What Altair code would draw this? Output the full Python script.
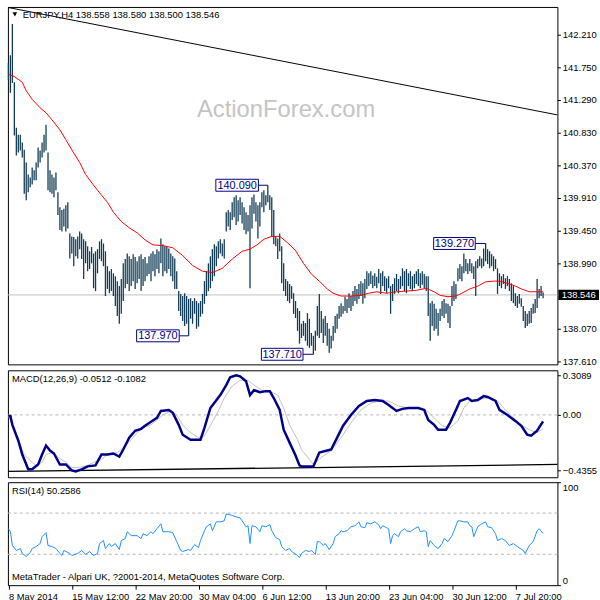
import altair as alt
import pandas as pd

# ---------------- data ----------------
high = [141.81,141.92,142.36,141.54,140.90,140.80,140.80,140.69,140.59,140.41,
        140.24,140.20,140.34,140.30,140.41,140.62,140.58,140.69,140.80,140.94,
        140.55,140.30,140.24,140.20,140.27,139.99,139.78,139.74,139.76,139.81,
        139.85,139.41,139.37,139.36,139.33,139.37,139.44,139.41,139.33,139.30,
        139.23,139.16,139.22,139.13,139.16,139.19,139.30,139.33,139.27,139.16,
        138.95,138.88,138.91,138.85,138.81,138.74,138.67,138.77,138.99,139.05,
        139.13,139.09,139.05,139.12,139.08,139.02,139.09,139.12,139.05,139.08,
        138.99,139.09,139.13,139.16,139.12,139.19,139.16,139.34,139.26,139.23,
        139.23,139.20,139.13,139.09,139.06,138.88,138.60,138.56,138.53,138.57,
        138.53,138.49,138.50,138.46,138.50,138.46,138.43,138.46,138.56,138.74,
        138.88,138.99,139.09,139.19,139.26,139.23,139.30,139.33,139.27,139.33,
        139.71,139.74,139.71,139.85,139.92,139.95,139.88,139.92,139.85,139.78,
        139.71,139.67,139.81,139.92,139.96,139.85,139.81,139.85,139.99,140.02,
        139.95,140.09,139.95,139.92,139.74,139.37,139.34,139.41,139.23,138.99,
        138.77,138.74,138.70,138.67,138.57,138.46,138.36,138.32,138.14,138.18,
        138.15,138.29,138.21,138.01,137.97,138.04,138.39,138.56,138.32,138.21,
        138.25,138.15,138.07,137.97,138.11,138.25,138.28,138.39,138.43,138.39,
        138.52,138.49,138.57,138.53,138.60,138.67,138.63,138.70,138.74,138.71,
        138.77,138.88,138.85,138.88,138.82,138.85,138.80,138.91,138.85,138.88,
        138.81,138.78,138.81,138.67,138.70,138.78,138.84,138.77,138.81,138.92,
        138.88,138.91,138.85,138.88,138.81,138.84,138.88,138.91,138.85,138.88,
        138.84,138.81,138.81,138.43,138.46,138.42,138.35,138.29,138.35,138.46,
        138.49,138.43,138.42,138.39,138.67,138.74,138.70,138.92,138.98,138.95,
        139.13,139.05,138.99,139.05,138.99,138.95,139.02,139.05,139.09,139.06,
        139.20,139.27,139.19,139.16,139.12,139.09,139.05,138.92,138.85,138.81,
        138.84,138.78,138.81,138.77,138.71,138.67,138.57,138.53,138.56,138.50,
        138.39,138.32,138.28,138.32,138.36,138.42,138.49,138.77,138.63,138.67,
        138.58]
low = [141.57,141.39,141.53,140.79,140.51,140.55,140.58,140.48,139.97,139.88,
       139.99,140.06,140.10,140.16,140.16,140.34,140.41,140.48,140.55,140.58,
       140.02,139.99,139.97,139.92,140.02,139.67,139.46,139.44,139.51,139.44,
       139.48,139.06,139.13,138.95,139.09,139.06,139.19,139.05,138.77,138.99,
       138.88,138.91,138.99,138.64,138.60,138.85,139.05,139.02,138.95,138.53,
       138.63,138.57,138.60,138.53,138.39,138.25,138.14,138.28,138.46,138.64,
       138.70,138.60,138.67,138.74,138.63,138.71,138.77,138.60,138.67,138.74,
       138.81,138.84,138.74,138.88,138.81,138.91,138.85,138.99,138.81,138.88,
       138.85,138.91,138.81,138.74,138.63,138.63,138.32,138.25,138.18,138.11,
       138.14,137.97,138.21,138.14,138.28,138.07,138.10,138.24,138.28,138.42,
       138.53,138.60,138.64,138.74,138.81,138.95,139.06,139.13,139.09,139.06,
       139.44,139.51,139.46,139.60,139.64,139.53,139.58,139.67,139.55,139.46,
       139.40,139.44,138.64,139.48,139.69,139.58,139.34,139.51,139.78,139.71,
       139.81,139.85,139.74,139.37,139.26,139.23,139.05,139.16,138.71,138.60,
       138.53,138.46,138.43,138.49,138.28,138.22,138.04,137.86,137.94,137.97,
       137.90,137.83,137.80,137.83,137.71,137.76,137.97,137.94,138.01,137.87,
       137.97,137.83,137.73,137.79,137.90,138.01,138.07,138.21,138.24,138.28,
       138.32,138.29,138.36,138.32,138.39,138.46,138.42,138.49,138.53,138.42,
       138.50,138.63,138.67,138.70,138.64,138.67,138.64,138.71,138.56,138.67,
       138.60,138.57,138.64,138.28,138.46,138.56,138.60,138.57,138.63,138.67,
       138.60,138.57,138.67,138.63,138.60,138.64,138.70,138.67,138.64,138.69,
       138.64,138.60,138.25,137.90,138.11,138.04,138.07,137.97,138.18,138.25,
       138.22,138.28,138.15,138.08,138.39,138.46,138.49,138.74,138.77,138.74,
       138.85,138.88,138.84,138.88,138.85,138.77,138.53,138.92,138.95,138.92,
       138.95,139.02,138.98,138.92,138.95,138.88,138.91,138.56,138.67,138.64,
       138.70,138.63,138.67,138.60,138.46,138.43,138.39,138.36,138.42,138.38,
       138.18,138.08,138.11,138.14,138.15,138.28,138.29,138.36,138.50,138.53,
       138.50]

ma_idx = [0,3,7,9,12,16,19,22,26,29,32,36,39,43,47,50,53,57,61,65,69,73,78,83,88,
          93,98,103,108,113,118,122,126,129,133,137,141,145,149,153,157,161,164,168,
          173,178,182,186,191,196,201,206,211,215,218,222,226,229,233,237,241,245,
          248,252,256,259,263,267,270]
ma_val = [141.65,141.62,141.54,141.42,141.30,141.18,141.11,141.01,140.87,140.73,140.59,
          140.41,140.24,140.09,139.95,139.85,139.71,139.58,139.49,139.42,139.32,139.25,
          139.24,139.21,139.10,138.96,138.88,138.86,138.92,139.05,139.16,139.19,139.26,
          139.33,139.37,139.37,139.28,139.17,138.99,138.84,138.74,138.63,138.57,138.53,
          138.53,138.54,138.57,138.59,138.57,138.59,138.60,138.61,138.64,138.59,138.54,
          138.52,138.53,138.57,138.63,138.67,138.73,138.74,138.74,138.71,138.67,138.63,
          138.59,138.59,138.59]

macd_idx = [0,1,2,5,7,10,12,15,17,19,21,23,26,29,32,34,37,40,44,47,50,53,56,58,61,64,
            67,69,72,75,77,81,83,86,88,92,97,99,102,107,110,112,115,117,120,122,124,127,
            130,132,134,137,139,142,145,147,148,154,157,161,163,166,169,173,177,181,185,
            189,192,196,199,202,207,210,212,215,217,221,223,226,228,232,234,237,240,242,
            246,248,252,256,259,262,264,267,270]
macd_val = [-0.008,-0.008,-0.078,-0.202,-0.31,-0.426,-0.426,-0.388,-0.31,-0.24,-0.279,
            -0.302,-0.388,-0.388,-0.434,-0.442,-0.426,-0.403,-0.395,-0.31,-0.31,-0.302,
            -0.326,-0.271,-0.178,-0.124,-0.109,-0.085,-0.054,-0.023,0.031,0.039,0.016,
            -0.078,-0.155,-0.194,-0.194,-0.101,0.054,0.155,0.233,0.295,0.31,0.302,0.264,
            0.155,0.194,0.178,0.186,0.186,0.132,0.039,-0.116,-0.217,-0.318,-0.395,-0.403,
            -0.403,-0.295,-0.279,-0.271,-0.178,-0.085,0.0,0.07,0.109,0.116,0.109,0.078,
            0.031,0.047,0.054,0.054,0.039,-0.039,-0.078,-0.116,-0.116,-0.062,0.039,0.109,
            0.132,0.109,0.116,0.147,0.14,0.109,0.039,0.0,-0.047,-0.085,-0.155,-0.163,
            -0.124,-0.0512]

sig_idx = [0,2,5,8,12,14,17,19,22,26,29,32,36,40,43,47,50,55,58,62,65,68,72,75,78,82,
           85,88,92,96,99,102,106,109,113,117,121,124,128,132,136,139,142,146,148,152,
           154,158,163,168,173,178,183,188,192,197,202,207,211,215,219,223,227,230,233,
           238,242,247,251,255,259,263,267,270]
sig_val = [-0.008,-0.078,-0.194,-0.31,-0.372,-0.395,-0.372,-0.31,-0.295,-0.341,-0.372,
           -0.411,-0.411,-0.395,-0.372,-0.349,-0.31,-0.295,-0.256,-0.194,-0.14,-0.101,
           -0.078,-0.039,0.0,0.031,0.0,-0.078,-0.14,-0.178,-0.163,-0.085,0.031,0.132,
           0.225,0.271,0.271,0.233,0.194,0.186,0.155,0.054,-0.078,-0.194,-0.271,-0.349,
           -0.388,-0.333,-0.279,-0.178,-0.062,0.039,0.093,0.109,0.109,0.07,0.054,0.054,
           0.039,-0.023,-0.085,-0.101,-0.047,0.054,0.109,0.124,0.132,0.109,0.039,-0.023,
           -0.078,-0.116,-0.14,-0.1082]

rsi_idx = [0,1,2,4,6,7,9,11,12,14,16,17,19,20,22,24,26,27,28,31,32,35,37,39,41,43,45,46,
           48,49,51,52,54,56,57,59,60,62,65,67,68,70,72,73,75,77,78,81,83,85,87,88,91,92,
           94,96,97,99,100,102,103,105,107,109,110,112,115,117,118,120,121,122,123,125,
           127,128,130,132,133,135,137,138,140,142,143,146,147,148,150,152,153,155,156,
           157,159,160,162,164,165,167,168,169,171,173,175,177,178,180,181,183,185,187,
           188,189,191,192,193,194,195,197,198,200,201,203,205,207,208,210,211,212,213,
           215,217,219,220,222,224,225,227,228,230,232,233,234,235,237,239,241,242,244,
           246,247,249,251,253,255,257,260,261,263,265,267,268,270]
rsi_val = [54.8,51.9,38.5,33.7,35.6,30.8,27.9,31.7,35.6,37.5,40.4,47.1,51.0,38.5,37.5,
           35.6,30.8,28.8,33.7,30.8,28.8,30.8,33.7,29.8,32.7,28.8,30.8,40.4,43.3,35.6,
           40.4,37.5,40.4,34.6,43.3,45.2,51.9,48.1,48.1,45.2,50.0,48.1,51.9,50.0,54.8,
           59.6,51.9,51.9,51.0,42.3,33.7,32.7,34.6,33.7,39.4,36.5,43.3,52.9,56.7,59.6,
           52.9,61.5,61.5,62.5,69.2,68.3,66.3,65.4,62.5,56.7,57.7,40.4,57.7,56.7,51.9,
           57.7,56.7,58.7,52.9,46.2,44.2,37.5,33.7,35.6,32.7,28.8,26.9,30.8,33.7,32.7,
           33.7,29.8,42.3,42.3,38.5,40.4,34.6,40.4,47.1,50.0,52.9,51.9,52.9,56.7,57.7,
           61.5,56.7,55.8,60.6,59.6,61.5,58.7,54.8,57.7,55.8,54.8,40.4,48.1,50.0,47.1,
           51.9,54.8,52.9,51.9,54.8,56.7,51.9,52.9,51.9,37.5,43.3,38.5,35.6,40.4,45.2,
           42.3,48.1,52.9,62.5,62.5,61.5,61.5,57.7,56.7,47.1,56.7,59.6,61.5,56.7,55.8,
           50.0,43.3,45.2,43.3,38.5,40.4,37.5,33.7,30.8,38.5,42.3,52.9,54.8,50.2586]

tick_idx = [0, 32, 64, 96, 128, 160, 192, 224, 256]
tick_labels = ["8 May 2014", "15 May 12:00", "22 May 20:00", "30 May 04:00",
               "6 Jun 12:00", "13 Jun 20:00", "23 Jun 04:00", "30 Jun 12:00", "7 Jul 20:00"]
price_ticks = [137.61, 138.07, 138.99, 139.45, 139.91, 140.37, 140.83, 141.29, 141.75, 142.21]
macd_ticks = [-0.4355, 0.0, 0.3089]
rsi_ticks = [0, 30, 70, 100]

label_text = ["140.090", "137.970", "137.710", "139.270"]
label_price = [140.09, 137.97, 137.71, 139.27]
label_left = [104.75, 64.75, 127.75, 214.75]
label_right = [126.25, 86.25, 148.75, 235.75]
label_bar = [131, 91, 154, 241]

trend_idx = [-0.25, 277.25]
trend_price = [142.593, 141.08]
macd_trend_val = [-0.442, -0.388]
last_price = 138.546

title_main = "EURJPY,H4  138.558 138.580 138.500 138.546"
title_macd = "MACD(12,26,9) -0.0512 -0.1082"
title_rsi = "RSI(14) 50.2586"
footer = "MetaTrader - Alpari UK, ?2001-2014, MetaQuotes Software Corp."
watermark = "ActionForex.com"

# ---------------- styling ----------------
FONT = "Liberation Sans"
BAR = "#123c56"
W = 555
XS = alt.Scale(domain=[-0.25, 277.25], nice=False, zero=False)

bars_df = pd.DataFrame({"i": list(range(len(high))), "h": high, "l": low})
ma_df = pd.DataFrame({"i": ma_idx, "v": ma_val})
macd_df = pd.DataFrame({"i": macd_idx, "v": macd_val})
sig_df = pd.DataFrame({"i": sig_idx, "v": sig_val})
rsi_df = pd.DataFrame({"i": rsi_idx, "v": rsi_val})
trend_df = pd.DataFrame({"i": trend_idx, "v": trend_price})
mtrend_df = pd.DataFrame({"i": trend_idx, "v": macd_trend_val})
lab_df = pd.DataFrame({"t": label_text, "p": label_price, "xl": label_left,
                       "xr": label_right, "xb": label_bar})
lab_df["lo"] = lab_df["p"] - 0.084
lab_df["hi"] = lab_df["p"] + 0.084
lab_df["xc"] = (lab_df["xl"] + lab_df["xr"]) / 2
last_df = pd.DataFrame({"p": [last_price], "lo": [last_price - 0.072],
                        "hi": [last_price + 0.072], "t": [f"{last_price:.3f}"]})

YS = alt.Scale(domain=[137.568, 142.60], nice=False, zero=False)
yaxis_main = alt.Axis(orient="right", values=price_ticks, format=".3f", title=None,
                      grid=False, domain=False, tickSize=3, labelPadding=2,
                      labelFlush=False, labelOverlap=False)

x_noaxis = alt.X("i:Q", scale=XS, axis=None)

last_line = alt.Chart(last_df).mark_rule(color="#c0c0c0", strokeWidth=1).encode(
    x=alt.value(0), x2=alt.value(W), y=alt.Y("p:Q", scale=YS, axis=yaxis_main))
bar_layer = alt.Chart(bars_df).mark_rule(color=BAR, strokeWidth=1.3).encode(
    x=x_noaxis, y=alt.Y("l:Q", scale=YS), y2="h:Q")
ma_layer = alt.Chart(ma_df).mark_line(color="#ff0000", strokeWidth=1).encode(
    x=x_noaxis, y=alt.Y("v:Q", scale=YS))
trend_layer = alt.Chart(trend_df).mark_line(color="black", strokeWidth=1, clip=True).encode(
    x=x_noaxis, y=alt.Y("v:Q", scale=YS))
conn_layer = alt.Chart(lab_df).mark_rule(color="#000080", strokeWidth=1).encode(
    x=alt.X("xr:Q", scale=XS, axis=None), x2="xb:Q", y=alt.Y("p:Q", scale=YS))
box_layer = alt.Chart(lab_df).mark_rect(fill="white", stroke="#000080", strokeWidth=1).encode(
    x=alt.X("xl:Q", scale=XS, axis=None), x2="xr:Q", y=alt.Y("lo:Q", scale=YS), y2="hi:Q")
boxtxt_layer = alt.Chart(lab_df).mark_text(font=FONT, fontSize=11, color="#000080",
                                           baseline="middle", align="center", dy=0.5).encode(
    x=alt.X("xc:Q", scale=XS, axis=None), y=alt.Y("p:Q", scale=YS), text="t:N")
wm_layer = alt.Chart(pd.DataFrame({"t": [watermark]})).mark_text(
    font=FONT, fontSize=24, color="#c4c4c4", align="left", baseline="alphabetic").encode(
    x=alt.value(191), y=alt.value(111), text="t:N")
title_layer = alt.Chart(pd.DataFrame({"t": [title_main]})).mark_text(
    font=FONT, fontSize=9.5, color="black", align="left", baseline="alphabetic").encode(
    x=alt.value(15), y=alt.value(11), text="t:N")
tri_layer = alt.Chart(pd.DataFrame({"t": [0]})).mark_point(
    shape="triangle-down", filled=True, color="black", size=22, opacity=1).encode(
    x=alt.value(7), y=alt.value(7.5))
lastbox_layer = alt.Chart(last_df).mark_rect(fill="black").encode(
    x=alt.value(556), x2=alt.value(597), y=alt.Y("lo:Q", scale=YS), y2="hi:Q")
lasttxt_layer = alt.Chart(last_df).mark_text(font=FONT, fontSize=9.5, color="white",
                                            align="center", baseline="middle", dy=0.5).encode(
    x=alt.value(576.5), y=alt.Y("p:Q", scale=YS), text="t:N")

main = alt.layer(last_line, wm_layer, trend_layer, bar_layer, ma_layer, conn_layer,
                 box_layer, boxtxt_layer, title_layer, tri_layer,
                 lastbox_layer, lasttxt_layer).properties(width=W, height=361)

# MACD panel
MS = alt.Scale(domain=[-0.488, 0.349], nice=False, zero=False)
yaxis_macd = alt.Axis(orient="right", values=macd_ticks, title=None, grid=False,
                      domain=False, tickSize=3, labelPadding=2, labelFlush=False,
                      labelOverlap=False,
                      labelExpr="datum.value == 0 ? '0.00' : format(datum.value, '.4f')")
zero_df = pd.DataFrame({"v": [0.0]})
zero_layer = alt.Chart(zero_df).mark_rule(color="#b4b4b4", strokeDash=[3, 3]).encode(
    x=alt.value(0), x2=alt.value(W), y=alt.Y("v:Q", scale=MS, axis=yaxis_macd))
mtrend_layer = alt.Chart(mtrend_df).mark_line(color="black", strokeWidth=1.3).encode(
    x=x_noaxis, y=alt.Y("v:Q", scale=MS))
sig_layer = alt.Chart(sig_df).mark_line(color="#c0c0c0", strokeWidth=1).encode(
    x=x_noaxis, y=alt.Y("v:Q", scale=MS))
macd_layer = alt.Chart(macd_df).mark_line(color="#00008b", strokeWidth=2.5).encode(
    x=x_noaxis, y=alt.Y("v:Q", scale=MS))
mtitle = alt.Chart(pd.DataFrame({"t": [title_macd]})).mark_text(
    font=FONT, fontSize=9.5, color="black", align="left", baseline="alphabetic").encode(
    x=alt.value(4), y=alt.value(12), text="t:N")
macd_panel = alt.layer(zero_layer, mtrend_layer, sig_layer, macd_layer, mtitle).properties(
    width=W, height=108)

# RSI panel
RS = alt.Scale(domain=[0, 100], nice=False, zero=False)
yaxis_rsi = alt.Axis(orient="right", values=rsi_ticks, format="d", title=None, grid=False,
                     domain=False, tickSize=3, labelPadding=2, labelFlush=True,
                     labelOverlap=False)
label_js = "[" + ",".join("'" + s + "'" for s in tick_labels) + "]"
xaxis_rsi = alt.Axis(values=tick_idx, title=None, grid=False, domain=False, tickSize=4,
                     labelAlign="left", labelPadding=2, labelFlush=False, labelOverlap=False,
                     labelExpr=label_js + "[round(datum.value / 32)]")
lvl_df = pd.DataFrame({"v": [30, 70]})
lvl_layer = alt.Chart(lvl_df).mark_rule(color="#b4b4b4", strokeDash=[3, 3]).encode(
    x=alt.value(0), x2=alt.value(W), y=alt.Y("v:Q", scale=RS, axis=yaxis_rsi))
rsi_layer = alt.Chart(rsi_df).mark_line(color="#1e90ff", strokeWidth=1).encode(
    x=alt.X("i:Q", scale=XS, axis=xaxis_rsi), y=alt.Y("v:Q", scale=RS))
rtitle = alt.Chart(pd.DataFrame({"t": [title_rsi]})).mark_text(
    font=FONT, fontSize=9.5, color="black", align="left", baseline="alphabetic").encode(
    x=alt.value(4), y=alt.value(12), text="t:N")
rfoot = alt.Chart(pd.DataFrame({"t": [footer]})).mark_text(
    font=FONT, fontSize=9.5, color="black", align="left", baseline="alphabetic").encode(
    x=alt.value(4), y=alt.value(99), text="t:N")
rsi_panel = alt.layer(lvl_layer, rsi_layer, rtitle, rfoot).properties(width=W, height=104)

chart = alt.vconcat(main, macd_panel, rsi_panel, spacing=3).properties(
    padding={"left": 3, "top": 3, "right": 0, "bottom": 0},
    background="white",
).configure_view(stroke="black", strokeWidth=1).configure_axis(
    labelFont=FONT, labelFontSize=9.5, labelColor="black", tickColor="black", tickWidth=1
)

chart.save("out.html", embed_options={"renderer": "svg", "actions": False})
